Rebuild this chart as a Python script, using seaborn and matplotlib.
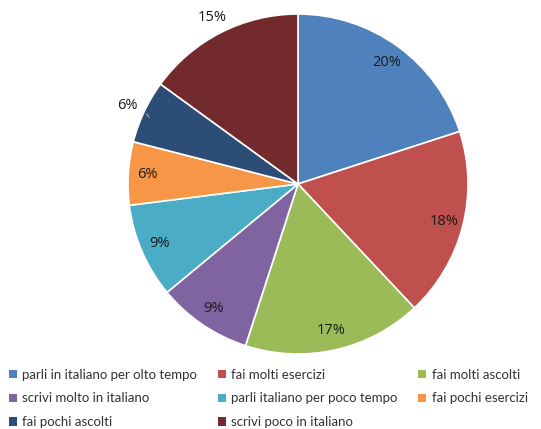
import numpy as np
import matplotlib
matplotlib.use("Agg")
import matplotlib.pyplot as plt
import seaborn as sbn
from matplotlib.patches import Patch

categories = ["parli in italiano per olto tempo", "fai molti esercizi", "fai molti ascolti",
              "scrivi molto in italiano", "parli italiano per poco tempo", "fai pochi esercizi",
              "fai pochi ascolti", "scrivi poco in italiano"]
values = [20, 18, 17, 9, 9, 6, 6, 15]
pct_labels = ["20%", "18%", "17%", "9%", "9%", "6%", "6%", "15%"]
outside = [False, False, False, False, False, False, True, True]
colors = ["#4F81BD", "#C0504D", "#9BBB59", "#8064A2", "#4BACC6", "#F79646", "#2C4D75", "#722A2C"]

sbn.set_theme(style="white")
plt.rcParams['font.family'] = ['Lato', 'DejaVu Sans']

fig = plt.figure(figsize=(5.41, 4.29), dpi=100)
# pie centre ~ (298, 184) px, radius ~170 px
R = 170
lim = 1.3
w = 2 * lim * R
ax = fig.add_axes([(298 - w / 2) / 541, (429 - 184 - w / 2) / 429, w / 541, w / 429])
wedges, _ = ax.pie(values, colors=sbn.color_palette(colors), startangle=90, counterclock=False,
                   wedgeprops=dict(edgecolor="white", linewidth=1.2))
ax.set_xlim(-lim, lim)
ax.set_ylim(-lim, lim)
ax.set_aspect("equal")
ax.axis("off")

for wd, lab, out in zip(wedges, pct_labels, outside):
    ang = np.deg2rad((wd.theta1 + wd.theta2) / 2)
    r = 1.11 if out else 0.885
    ax.text(r * np.cos(ang), r * np.sin(ang) - (0.012 if out else 0), lab, ha="center", va="center",
            fontsize=10.5, color="#1a1a1a", family=["Open Sans", "DejaVu Sans"])
    if out and lab == "6%":
        ax.plot([1.04 * np.cos(ang) + 0.05, 0.99 * np.cos(ang) + 0.02],
                [1.04 * np.sin(ang) - 0.03, 0.99 * np.sin(ang) - 0.03], color="#aaaaaa", lw=0.8)

handles = [Patch(facecolor=c, edgecolor="none") for c in colors]
order = [0, 3, 6, 1, 4, 7, 2, 5]
fig.legend([handles[i] for i in order], [categories[i] for i in order], ncol=3,
           loc="lower left", bbox_to_anchor=(-0.006, -0.026), frameon=False, fontsize=9.5,
           handlelength=0.6, handleheight=0.6, handletextpad=0.4, columnspacing=1.6,
           labelspacing=0.9, labelcolor="#333333")

fig.savefig("out.png", dpi=100)
